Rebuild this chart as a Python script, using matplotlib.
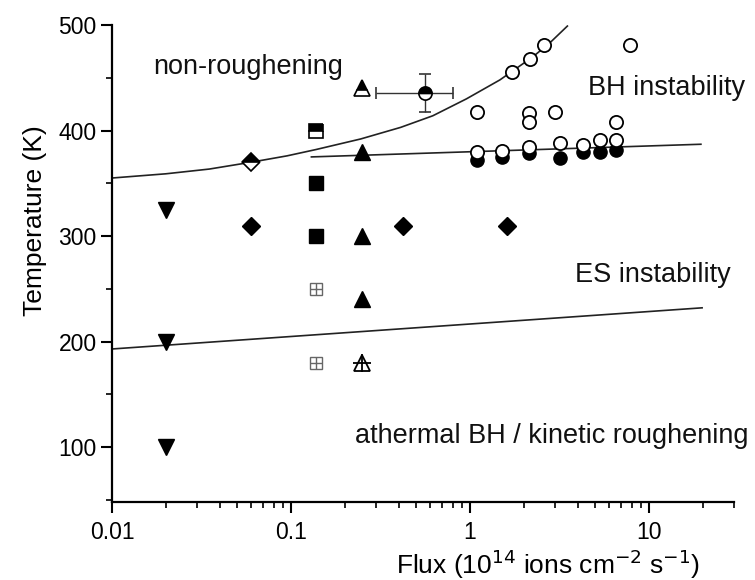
import matplotlib
matplotlib.use("Agg")
import matplotlib.pyplot as plt
from matplotlib.ticker import FixedLocator, FixedFormatter, LogLocator, NullFormatter, MultipleLocator

plt.rcParams['font.family'] = ['Liberation Sans', 'DejaVu Sans']

# ---------------- data ----------------
down_tri_flux = [0.02, 0.02, 0.02]
down_tri_T = [325, 200, 100]

diamond_flux = [0.06, 0.42, 1.6]
diamond_T = [310, 310, 310]
half_diamond_flux = [0.06]
half_diamond_T = [370]

square_flux = [0.138, 0.138]
square_T = [350, 300]
half_square_flux = [0.138]
half_square_T = [400]
cross_square_flux = [0.138, 0.138]
cross_square_T = [250, 180]

tri_flux = [0.25, 0.25, 0.25]
tri_T = [380, 300, 240]
half_tri_flux = [0.25]
half_tri_T = [440]
cross_tri_flux = [0.25]
cross_tri_T = [180]

err_flux = [0.56]
err_T = [436]
err_flux_low = [0.30]
err_flux_high = [0.80]
err_T_err = [18]

open_circ_flux = [1.72, 2.16, 2.59, 7.8,
                  1.09, 2.14, 2.14, 2.99, 6.55,
                  1.09, 1.51, 2.14, 3.18, 4.28, 5.32, 6.55]
open_circ_T = [455, 468, 481, 481,
               418, 417, 408, 418, 408,
               380, 381, 384, 388, 386, 391, 391]
filled_circ_flux = [1.09, 1.51, 2.14, 3.18, 4.28, 5.32, 6.55]
filled_circ_T = [372, 375, 379, 374, 380, 380, 382]

# boundary lines
curve_flux = [0.01, 0.02, 0.035, 0.06, 0.095, 0.138, 0.245, 0.41, 0.62, 0.955,
              1.47, 2.25, 2.79, 3.5]
curve_T = [355, 359, 363.5, 370, 376, 382, 392, 403, 414, 430,
           448, 470, 483, 499]
upper_line_flux = [0.13, 19.5]
upper_line_T = [375, 387]
lower_line_flux = [0.01, 19.8]
lower_line_T = [193, 232]

xtick_vals = [0.01, 0.1, 1, 10]
xtick_labels = ['0.01', '0.1', '1', '10']
ytick_vals = [100, 200, 300, 400, 500]

labels_text = ['non-roughening', 'BH instability', 'ES instability',
               'athermal BH / kinetic roughening']
labels_flux = [0.0169, 4.56, 3.87, 0.228]
labels_T = [460, 440, 263, 111]

# ---------------- figure ----------------
fig = plt.figure(figsize=(7.55, 5.8), dpi=100)
ax = fig.add_axes([112 / 755, 78 / 580, 622.4 / 755, 477 / 580])
ax.set_xscale('log')
ax.set_xlim(0.01, 30)
ax.set_ylim(48, 500)

lc = '#222222'
ax.plot(curve_flux, curve_T, color=lc, lw=1.2, zorder=2, solid_joinstyle='round')
ax.plot(upper_line_flux, upper_line_T, color=lc, lw=1.2, zorder=2)
ax.plot(lower_line_flux, lower_line_T, color=lc, lw=1.2, zorder=2)

k = 'black'
ax.plot(down_tri_flux, down_tri_T, 'v', ms=12, color=k, ls='none', zorder=3)
ax.plot(diamond_flux, diamond_T, 'D', ms=9, color=k, ls='none', zorder=3)
ax.plot(half_diamond_flux, half_diamond_T, 'D', ms=9, color=k, fillstyle='top',
        markerfacecoloralt='white', mew=1.2, ls='none', zorder=3)
ax.plot(square_flux, square_T, 's', ms=9.5, color=k, ls='none', zorder=3)
ax.plot(half_square_flux, half_square_T, 's', ms=9.5, color=k, fillstyle='top',
        markerfacecoloralt='white', mew=1.2, ls='none', zorder=3)
ax.plot(cross_square_flux, cross_square_T, 's', ms=8, mfc='white', mec='#666666',
        mew=1.0, ls='none', zorder=3)
ax.plot(cross_square_flux, cross_square_T, '+', ms=8, mec='#666666',
        mew=1.0, ls='none', zorder=4)
ax.plot(tri_flux, tri_T, '^', ms=12, color=k, ls='none', zorder=3)
ax.plot(half_tri_flux, half_tri_T, '^', ms=12, color=k, fillstyle='top',
        markerfacecoloralt='white', mew=1.2, ls='none', zorder=3)
ax.plot(cross_tri_flux, cross_tri_T, '^', ms=11, mfc='white', mec=k,
        mew=1.3, ls='none', zorder=3)
ax.plot(cross_tri_flux, cross_tri_T, '+', ms=13, mec=k, mew=1.3, ls='none', zorder=4)

ax.plot(filled_circ_flux, filled_circ_T, 'o', ms=9.5, color=k, ls='none', zorder=3)
ax.plot(open_circ_flux, open_circ_T, 'o', ms=9.5, mfc='white', mec=k, mew=1.3,
        ls='none', zorder=3)

xerr = [[f - lo for f, lo in zip(err_flux, err_flux_low)],
        [hi - f for f, hi in zip(err_flux, err_flux_high)]]
ax.errorbar(err_flux, err_T, xerr=xerr, yerr=err_T_err, fmt='o', ms=9.5,
            color=k, fillstyle='top', markerfacecoloralt='white', mew=1.2,
            ecolor='#333333', elinewidth=1.0, capsize=4, capthick=1.0, zorder=3)

for t, fx, ty in zip(labels_text, labels_flux, labels_T):
    ax.text(fx, ty, t, fontsize=19.5, ha='left', va='center', color='#111111',
            clip_on=False)

# axes style
for s in ['top', 'right']:
    ax.spines[s].set_visible(False)
for s in ['left', 'bottom']:
    ax.spines[s].set_linewidth(1.6)

ax.xaxis.set_major_locator(FixedLocator(xtick_vals))
ax.xaxis.set_major_formatter(FixedFormatter(xtick_labels))
ax.xaxis.set_minor_locator(LogLocator(base=10, subs=range(2, 10), numticks=20))
ax.xaxis.set_minor_formatter(NullFormatter())
ax.yaxis.set_major_locator(FixedLocator(ytick_vals))
ax.yaxis.set_minor_locator(MultipleLocator(50))

ax.tick_params(which='major', direction='out', length=8, width=1.5,
               labelsize=16.5, pad=3)
ax.tick_params(which='minor', direction='out', length=4.5, width=1.2)
ax.tick_params(axis='x', which='major', pad=6)

ax.set_xlabel(r'Flux (10$^{14}$ ions cm$^{-2}$ s$^{-1}$)', fontsize=19, labelpad=4)
ax.set_ylabel('Temperature (K)', fontsize=19, labelpad=8)
ax.xaxis.set_label_coords(0.70, -0.095)
ax.yaxis.label.set_y(0.59)

fig.savefig('out.png', dpi=100)
